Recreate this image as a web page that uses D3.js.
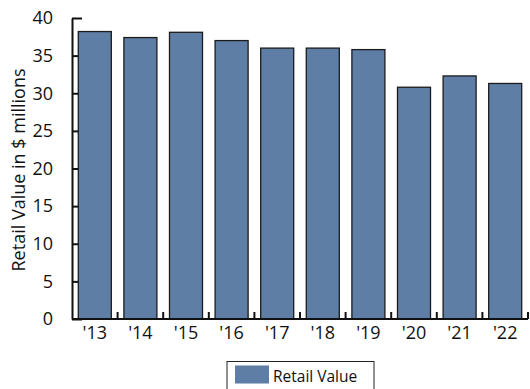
<!DOCTYPE html>
<html>
<head>
<meta charset="utf-8">
<script src="https://cdn.jsdelivr.net/npm/d3@7/dist/d3.min.js"></script>
<style>
  html, body { margin: 0; padding: 0; background: #fff; }
  svg { display: block; font-family: "Open Sans", "Noto Sans", sans-serif; }
</style>
</head>
<body>
<div id="chart"></div>
<script>
// Retail value by year, $ millions
const years = ["'13", "'14", "'15", "'16", "'17", "'18", "'19", "'20", "'21", "'22"];
const retailValue = [38.2, 37.4, 38.1, 37.0, 36.0, 36.0, 35.8, 30.8, 32.3, 31.3];
const yTicks = [0, 5, 10, 15, 20, 25, 30, 35, 40];
const seriesName = "Retail Value";
const yTitle = "Retail Value in $ millions";

const W = 530, H = 389;
const margin = { top: 18, right: 2, bottom: 70, left: 72 };
const innerW = W - margin.left - margin.right;
const innerH = H - margin.top - margin.bottom;
const barColor = "#5f7ea6";
const ink = "#111";

const svg = d3.select("#chart").append("svg")
  .attr("width", W).attr("height", H);

const g = svg.append("g").attr("transform", `translate(${margin.left},${margin.top})`);

const padIn = 0.276;
const x = d3.scaleBand().domain(years).range([0, innerW])
  .paddingInner(padIn).paddingOuter(padIn / 2);
const y = d3.scaleLinear().domain([0, 40]).range([innerH, 0]);

// Y axis: inward ticks, labels on the left
const yAxis = g.append("g").call(
  d3.axisLeft(y).tickValues(yTicks).tickSizeInner(-10).tickSizeOuter(0).tickPadding(19)
);
yAxis.select(".domain").attr("stroke", ink).attr("stroke-width", 2);
yAxis.selectAll(".tick line").attr("stroke", ink).attr("stroke-width", 2);
yAxis.selectAll(".tick text").attr("font-size", 18).attr("fill", "#111")
  .attr("font-family", "'Open Sans', sans-serif");

// Bars
g.selectAll("rect.bar").data(years).join("rect")
  .attr("class", "bar")
  .attr("x", d => x(d))
  .attr("width", x.bandwidth())
  .attr("y", (d, i) => y(retailValue[i]))
  .attr("height", (d, i) => innerH - y(retailValue[i]))
  .attr("fill", barColor)
  .attr("stroke", "#1b1b1b")
  .attr("stroke-width", 1.3);

// X axis: baseline with short upward ticks at category boundaries
const step = x.step();
const bounds = years.map(d => x(d) + x.bandwidth() + step * padIn / 2);
const xg = g.append("g").attr("transform", `translate(0,${innerH})`);
xg.append("line").attr("x1", 0).attr("x2", innerW).attr("y1", 0).attr("y2", 0)
  .attr("stroke", ink).attr("stroke-width", 2);
xg.selectAll("line.bt").data(bounds).join("line")
  .attr("class", "bt")
  .attr("x1", d => d).attr("x2", d => d)
  .attr("y1", 0).attr("y2", -7)
  .attr("stroke", ink).attr("stroke-width", 2);
xg.selectAll("text").data(years).join("text")
  .attr("x", d => x(d) + x.bandwidth() / 2)
  .attr("y", 20)
  .attr("text-anchor", "middle")
  .attr("font-size", 18)
  .attr("fill", "#111")
  .text(d => d);

// Y axis title
svg.append("text")
  .attr("transform", "translate(25,170) rotate(-90)")
  .attr("text-anchor", "middle")
  .attr("font-size", 18)
  .attr("fill", "#111")
  .text(yTitle);

// Legend
const lg = svg.append("g").attr("transform", "translate(227,361.5)");
lg.append("rect").attr("x", 0).attr("y", 0).attr("width", 147).attr("height", 34)
  .attr("fill", "#fff").attr("stroke", "#222").attr("stroke-width", 1);
lg.append("rect").attr("x", 8).attr("y", 4).attr("width", 34).attr("height", 18)
  .attr("fill", barColor);
lg.append("text").attr("x", 46).attr("y", 20.5)
  .attr("font-size", 15.5).attr("fill", "#111")
  .text(seriesName);
</script>
</body>
</html>
